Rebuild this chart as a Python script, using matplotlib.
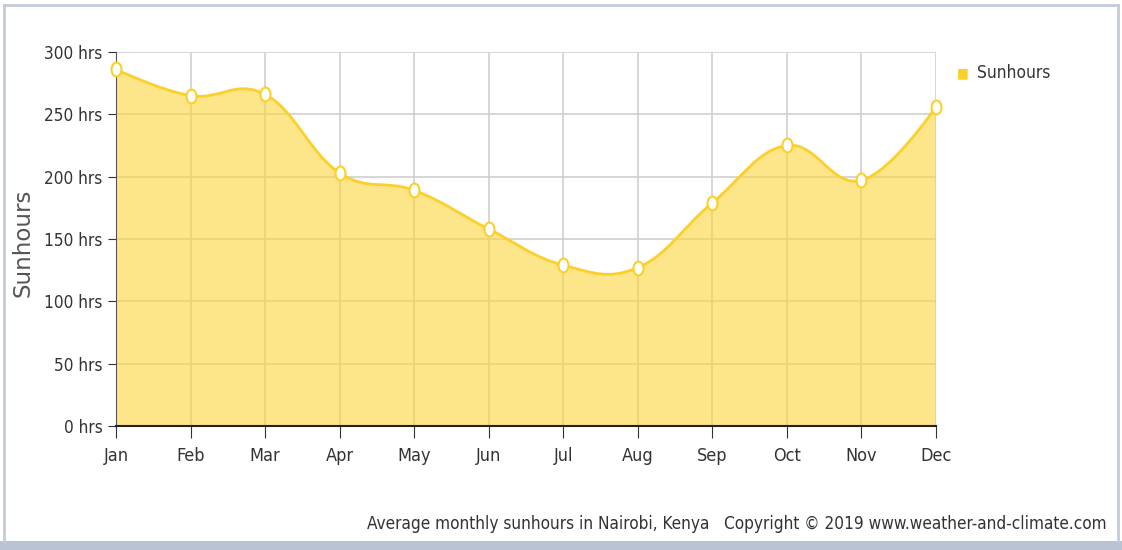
import numpy as np
import matplotlib
matplotlib.use("Agg")
import matplotlib.pyplot as plt
from matplotlib.path import Path
from matplotlib.patches import PathPatch, Rectangle
from matplotlib.transforms import Affine2D
from matplotlib import ticker as tk

months = ["Jan", "Feb", "Mar", "Apr", "May", "Jun",
          "Jul", "Aug", "Sep", "Oct", "Nov", "Dec"]
sunhours = [286, 265, 266, 203, 189, 158, 129, 127, 179, 225, 197, 256]
y_ticks = [0, 50, 100, 150, 200, 250, 300]

line_color = "#fbd02a"
fill_color = "#fcd43c"
text_color = "#333333"

plt.rcParams['font.family'] = ['DejaVu Sans']
plt.rcParams['font.stretch'] = 'condensed'


def spline_path(xs, ys, close_to=None):
    # smooth curve through the points, bezier control points from neighbours
    n = len(xs)
    left, right = [None] * n, [None] * n
    sm = 1.5
    for i in range(n):
        if i == 0 or i == n - 1:
            left[i] = (xs[i], ys[i])
            right[i] = (xs[i], ys[i])
            continue
        lx = (sm * xs[i] + xs[i - 1]) / (sm + 1)
        ly = (sm * ys[i] + ys[i - 1]) / (sm + 1)
        rx = (sm * xs[i] + xs[i + 1]) / (sm + 1)
        ry = (sm * ys[i] + ys[i + 1]) / (sm + 1)
        d = ((ry - ly) * (rx - xs[i])) / (rx - lx) + ys[i] - ry
        left[i] = (lx, ly + d)
        right[i] = (rx, ry + d)
    verts = [(xs[0], ys[0])]
    codes = [Path.MOVETO]
    for i in range(1, n):
        verts += [right[i - 1], left[i], (xs[i], ys[i])]
        codes += [Path.CURVE4] * 3
    if close_to is not None:
        verts += [(xs[-1], close_to), (xs[0], close_to), (xs[0], ys[0])]
        codes += [Path.LINETO, Path.LINETO, Path.CLOSEPOLY]
    return Path(verts, codes)


fig = plt.figure(figsize=(11.22, 5.5), dpi=100)
ax = fig.add_axes([0.1034, 0.2255, 0.7308, 0.68])

x = list(range(len(months)))
ax.add_patch(PathPatch(spline_path(x, sunhours, close_to=0),
                       facecolor=fill_color, edgecolor="none", alpha=0.6, zorder=2))
ax.add_patch(PathPatch(spline_path(x, sunhours), facecolor="none",
                       edgecolor=line_color, lw=2, zorder=3))
oval = Path.unit_circle().transformed(Affine2D().scale(0.72, 1.0))
ax.plot(x, sunhours, marker=oval, ls="none", ms=10, mfc="white",
        mec=line_color, mew=1.5, zorder=4, clip_on=False)

ax.set_xlim(0, 11)
ax.set_ylim(0, 300)
ax.set_xticks(x)
ax.set_xticklabels(months)
ax.set_yticks(y_ticks)
ax.yaxis.set_major_formatter(tk.FuncFormatter(lambda v, p: "%d hrs" % v))
ax.grid(True, color="#cfcfcf", lw=1.2, zorder=1)
ax.set_axisbelow(True)
for s in ["top", "right"]:
    ax.spines[s].set_visible(False)
ax.spines["left"].set_color("#555555")
ax.spines["bottom"].set_color("#222222")
ax.spines["bottom"].set_linewidth(1.5)
ax.tick_params(axis="both", colors=text_color)
ax.tick_params(axis="y", length=6, pad=3.6, labelsize=12.3)
ax.tick_params(axis="x", length=8.5, pad=6.5, labelsize=13)
ax.set_ylabel("Sunhours", fontsize=16.5, fontstretch="normal", color="#555555")
ax.yaxis.set_label_coords(-0.1, 0.49)

# legend
fig.text(0.858, 0.867, "\u25a0", color=line_color, fontsize=10,
         ha="center", va="center")
fig.text(0.871, 0.867, "Sunhours", color=text_color, fontsize=12.4,
         ha="left", va="center")

fig.text(0.986, 0.047, "Average monthly sunhours in Nairobi, Kenya   "
         "Copyright \u00a9 2019 www.weather-and-climate.com",
         color=text_color, fontsize=12.3, ha="right", va="center")

# screenshot frame
fig.patches.append(Rectangle((0, 0), 1, 0.016, transform=fig.transFigure,
                             facecolor="#b9c3d3", edgecolor="none"))
frame = dict(transform=fig.transFigure, color="#c4ccd8", lw=2)
fig.lines.append(plt.Line2D([0.0035, 0.0035], [0.016, 0.991], **frame))
fig.lines.append(plt.Line2D([0.9965, 0.9965], [0.016, 0.991], **frame))
fig.lines.append(plt.Line2D([0.0035, 0.9965], [0.991, 0.991], **frame))

fig.savefig("out.png", dpi=100)
